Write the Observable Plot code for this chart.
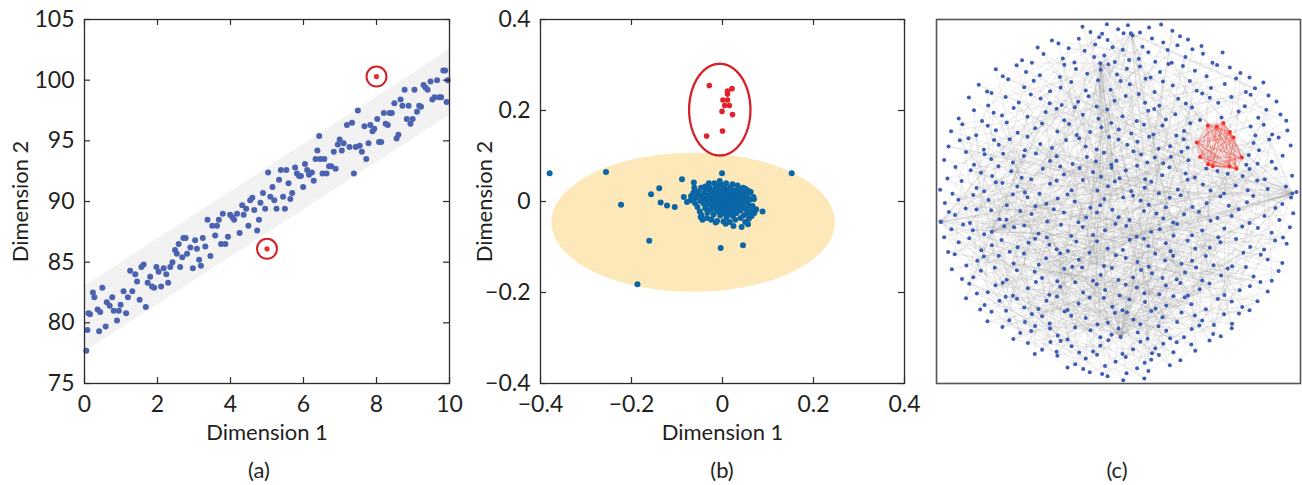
<!DOCTYPE html>
<html>
<head>
<meta charset="utf-8">
<script src="https://cdn.jsdelivr.net/npm/d3@7"></script>
<script src="https://cdn.jsdelivr.net/npm/@observablehq/plot@0.6"></script>
<style>
  body { margin: 0; background: #fff; font-family: Lato, sans-serif; color: #231f20; }
  #fig { position: relative; width: 1302px; height: 485px; background: #fff; overflow: hidden; }
  .panel { position: absolute; top: 0; }
  .cap { position: absolute; top: 457px; font-size: 22px; line-height: 26px; transform: translateX(-50%); white-space: nowrap; }
</style>
</head>
<body>
<div id="fig">
  <div class="panel" id="pa" style="left:0px"></div>
  <div class="panel" id="pb" style="left:460px"></div>
  <div class="panel" id="pc" style="left:920px"></div>
  <div class="cap" style="left:259px">(a)</div>
  <div class="cap" style="left:722px">(b)</div>
  <div class="cap" style="left:1117px">(c)</div>
</div>
<script>
// ---------- Panel (a): linear trend with two outliers ----------
const aXTicks = [0, 2, 4, 6, 8, 10];
const aYTicks = [75, 80, 85, 90, 95, 100, 105];
const aX = [0.05,0.08,0.11,0.15,0.23,0.27,0.36,0.40,0.43,0.49,0.58,0.61,0.69,0.76,0.80,0.89,0.94,0.99,1.07,1.14,1.19,1.25,1.31,1.39,1.44,1.51,1.56,1.62,1.68,1.73,1.80,1.85,1.91,1.97,2.03,2.10,2.17,2.24,2.29,2.35,2.41,2.48,2.53,2.58,2.62,2.68,2.71,2.77,2.81,2.90,2.97,3.03,3.08,3.14,3.19,3.24,3.31,3.37,3.45,3.50,3.58,3.63,3.68,3.74,3.79,3.86,3.93,3.99,4.05,4.10,4.18,4.25,4.32,4.36,4.43,4.49,4.54,4.60,4.65,4.73,4.78,4.82,4.89,4.95,5.03,5.09,5.15,5.20,5.26,5.33,5.38,5.44,5.49,5.53,5.59,5.64,5.69,5.77,5.82,5.88,5.93,5.99,6.04,6.10,6.15,6.23,6.28,6.33,6.38,6.43,6.46,6.52,6.57,6.63,6.70,6.76,6.83,6.88,6.94,6.99,7.05,7.10,7.19,7.26,7.33,7.38,7.43,7.49,7.54,7.60,7.67,7.72,7.78,7.83,7.89,7.94,8.02,8.07,8.13,8.20,8.25,8.31,8.36,8.42,8.49,8.55,8.60,8.66,8.71,8.77,8.83,8.88,8.93,8.99,9.04,9.11,9.17,9.22,9.29,9.34,9.40,9.48,9.53,9.59,9.66,9.72,9.77,9.83,9.88,9.92,9.95];
const aY = [77.7,79.4,80.8,80.7,82.5,82.1,81.1,79.3,80.9,82.9,79.7,81.7,81.4,82.1,81.0,80.2,81.0,81.5,82.6,80.8,82.1,84.3,82.6,84.0,83.4,81.9,84.6,84.8,81.3,83.3,83.8,83.0,82.9,84.6,84.2,83.0,84.5,84.0,83.3,84.6,85.0,86.0,85.7,86.5,84.6,85.4,87.0,87.0,85.7,86.2,84.5,86.8,86.1,85.2,84.7,87.0,86.3,88.5,85.5,88.0,87.2,88.0,88.5,86.5,89.0,86.5,87.1,88.9,88.7,88.5,89.0,87.4,89.7,88.9,89.4,88.0,90.1,90.3,89.3,87.6,88.5,89.9,90.7,89.4,92.4,90.4,91.2,90.1,89.4,91.8,92.6,90.4,89.4,92.6,91.5,90.2,90.7,92.8,92.3,92.1,92.1,91.2,93.1,92.6,92.2,92.4,91.7,93.5,94.2,95.4,93.5,92.3,93.5,92.3,92.9,92.9,94.1,92.7,94.7,95.1,94.2,94.8,96.3,94.5,96.5,92.3,94.5,97.5,94.6,94.1,96.2,93.5,94.8,96.3,95.8,96.0,96.8,94.9,94.9,97.3,96.4,96.3,97.3,97.3,98.1,95.2,95.5,98.4,97.9,99.2,96.8,97.9,96.4,96.8,99.2,97.4,97.9,97.8,99.6,99.4,99.2,99.9,98.4,98.6,100.0,98.6,98.6,100.8,100.8,98.2,100.0];
const aOutX = [8.0, 5.0];
const aOutY = [100.3, 86.1];
// shaded tolerance band: lower and upper edge at both ends
const bandX = [0, 10];
const bandLow = [77.6, 97.1];
const bandHigh = [83.0, 102.5];

// ---------- Panel (b): embedding with a detached group ----------
const bTicks = [-0.4, -0.2, 0, 0.2, 0.4];
const bBlue = [
  [-0.380,0.062],[-0.256,0.065],[-0.223,-0.007],[-0.157,0.016],[-0.139,0.029],[-0.136,-0.002],[-0.122,-0.009],[-0.105,-0.012],
  [-0.089,0.049],[-0.161,-0.086],[-0.187,-0.182],[-0.004,-0.102],[0.045,-0.096],[-0.001,0.062],[0.152,0.062],[0.088,-0.022],
  [0.074,-0.017],[0.056,-0.050],[0.042,-0.056],[-0.063,0.042],[-0.085,0.010],[-0.078,-0.001],[-0.069,0.012],[0.050,0.028],
  [0.062,0.021],[0.069,0.005],[0.024,-0.054],[0.007,-0.049],[-0.015,-0.046],[-0.048,-0.034],[-0.070,0.003],[-0.062,0.030],
  [-0.045,0.012],[-0.042,-0.004],[-0.040,0.020],[-0.038,-0.015],[-0.036,0.006],[-0.035,0.026],[-0.033,-0.024],[-0.031,0.014],
  [-0.030,-0.006],[-0.028,0.030],[-0.027,0.002],[-0.026,-0.018],[-0.024,0.022],[-0.023,-0.010],[-0.021,0.009],[-0.020,-0.029],
  [-0.019,0.017],[-0.018,-0.002],[-0.016,0.028],[-0.015,-0.014],[-0.014,0.005],[-0.013,-0.022],[-0.012,0.019],[-0.011,-0.007],
  [-0.010,0.034],[-0.009,0.011],[-0.008,-0.017],[-0.007,0.000],[-0.006,0.024],[-0.005,-0.031],[-0.004,0.015],[-0.003,-0.009],
  [-0.002,0.006],[-0.001,0.036],[0.000,-0.020],[0.001,0.020],[0.002,-0.003],[0.003,0.010],[0.004,-0.026],[0.005,0.029],
  [0.006,-0.012],[0.007,0.003],[0.008,0.017],[0.009,-0.035],[0.010,-0.005],[0.011,0.025],[0.012,-0.018],[0.013,0.008],
  [0.014,-0.028],[0.015,0.014],[0.016,-0.001],[0.017,0.031],[0.018,-0.011],[0.019,0.021],[0.020,-0.023],[0.021,0.004],
  [0.022,0.013],[0.023,-0.032],[0.024,-0.007],[0.025,0.024],[0.026,-0.016],[0.027,0.009],[0.028,-0.002],[0.030,0.018],
  [0.031,-0.025],[0.032,0.005],[0.034,-0.012],[0.035,0.027],[0.036,-0.004],[0.038,0.012],[0.039,-0.020],[0.041,0.002],
  [0.042,0.020],[0.044,-0.010],[0.046,0.008],[0.047,-0.030],[0.049,0.016],[0.050,-0.016],[0.052,0.000],[0.054,-0.026],
  [0.055,0.011],[0.057,-0.008],[0.058,-0.038],[0.060,0.004],[0.062,-0.020],
  [-0.058,0.008],[-0.055,-0.012],[-0.053,0.022],[-0.050,-0.022],[-0.048,0.001],[-0.047,0.030],[-0.046,-0.030],[-0.044,-0.040],
  [-0.052,0.015],[-0.060,-0.004],[-0.064,0.019],[-0.066,0.002],[-0.038,0.033],[-0.034,-0.036],[-0.030,0.040],[-0.025,-0.040],
  [-0.018,0.040],[-0.012,-0.043],[-0.006,0.045],[0.002,-0.044],[0.008,0.040],[0.016,-0.045],[0.022,0.038],[0.028,-0.040],
  [0.033,0.035],[0.040,-0.036],[0.045,0.030],[0.050,-0.045],[0.056,0.024],[0.064,-0.032],[0.068,0.010],[0.066,-0.010],
  [0.070,-0.025],[-0.020,0.008],[-0.010,-0.012],[0.000,0.004],[0.010,0.012],[0.020,-0.010],[0.030,0.008],[-0.025,-0.005],
  [-0.005,0.018],[0.015,-0.020],[0.035,0.015],[0.005,-0.015],[-0.015,0.025],[0.025,0.020],[0.040,-0.015],[-0.030,0.000],
  [-0.003,-0.025],[0.018,0.028],[0.045,-0.002],[-0.040,0.005],[0.008,0.008],[-0.008,0.005],[0.028,-0.015],[0.012,0.000],
  [-0.018,-0.008]
];
const bRed = [
  [-0.029,0.255],[0.021,0.248],[0.011,0.243],[0.011,0.236],[0.001,0.223],[0.011,0.223],
  [0.005,0.211],[0.015,0.211],[-0.001,0.198],[0.022,0.191],[0.000,0.155],[-0.035,0.144]
];
// ellipses: [centre x, centre y, radius x, radius y]
const bGroupEllipse = [-0.0645, -0.0457, 0.3114, 0.1527];
const bOutlierEllipse = [-0.006, 0.2019, 0.0674, 0.1008];

// ---------- Panel (c): network layout (0-100 box, y downward) ----------
// the first seven nodes are the high-degree hubs
const netNodes = [
  [15.2,58.3],[97.8,47.8],[50.6,87.2],[45.0,12.0],[53.4,3.8],[64.4,37.7],[1.2,55.6],
  [40.1,2.0],[42.3,3.4],[46.8,1.3],[49.9,2.7],[52.6,1.6],[55.9,3.6],[58.4,2.2],[61.7,1.4],[64.8,3.1],[45.5,3.9],[51.4,3.8],
  [44.7,4.9],[47.0,5.6],[53.9,4.4],[66.9,4.6],[62.3,6.3],[56.6,7.5],[31.7,5.8],[33.5,6.6],[36.3,7.9],[43.6,6.9],[66.2,7.1],[69.1,5.5],[27.8,7.7],[48.4,7.6],[59.2,5.2],[72.8,7.3],[39.1,5.3],
  [40.7,8.6],[46.1,9.9],[51.2,8.3],[55.6,10.8],[58.2,9.0],[60.1,11.6],[63.5,8.4],[68.4,10.3],[73.2,9.4],[75.8,11.9],[34.7,10.7],[23.5,11.2],[37.9,11.8],[43.3,10.3],[52.9,11.1],[64.6,11.9],[78.6,9.1],[29.4,9.5],[49.0,11.7],[70.3,8.2],[26.2,11.9],
  [16.3,13.7],[22.0,12.6],[35.1,12.4],[41.4,14.9],[47.2,12.3],[49.6,15.1],[52.3,13.5],[55.9,12.9],[61.4,14.4],[67.7,12.8],[74.2,15.6],[80.6,13.2],[83.5,14.7],[28.4,15.3],[18.2,15.6],[33.9,15.8],[45.1,13.8],[58.8,15.9],[63.7,12.2],[71.0,14.1],[77.1,12.5],[86.0,15.9],[24.6,14.4],[38.3,13.6],
  [11.6,17.9],[19.7,16.4],[24.1,18.6],[31.2,19.7],[37.0,17.2],[44.4,16.7],[47.8,19.3],[53.1,17.8],[57.4,16.3],[59.9,19.9],[64.9,18.1],[69.6,16.9],[71.5,19.6],[79.2,17.7],[82.3,16.2],[87.5,18.9],[13.9,19.8],[26.7,16.8],[34.1,18.7],[41.0,19.5],[50.6,16.9],[62.2,17.0],[75.4,18.8],[89.8,17.3],[85.0,19.9],
  [8.9,21.4],[15.1,20.2],[22.6,22.8],[25.9,20.6],[34.4,23.5],[41.8,21.1],[48.9,22.3],[55.6,20.5],[61.2,23.7],[66.4,21.8],[73.0,20.3],[77.4,22.9],[81.0,21.3],[84.7,23.8],[91.2,20.9],[14.2,23.6],[28.6,21.7],[38.9,22.6],[44.0,23.9],[52.0,21.0],[57.3,22.9],[68.5,23.1],[75.1,21.5],[86.3,20.7],[93.4,22.5],[19.0,21.3],[31.1,23.0],
  [10.3,24.9],[18.0,26.4],[21.2,24.3],[30.0,25.4],[35.1,27.7],[46.9,24.7],[51.1,26.6],[58.2,25.1],[63.0,27.5],[70.2,24.2],[78.3,26.9],[83.0,25.3],[94.5,26.1],[6.1,27.2],[12.5,27.9],[25.0,26.7],[33.0,24.5],[40.2,26.2],[44.5,27.3],[55.0,27.9],[59.8,24.6],[65.6,26.0],[72.4,27.6],[88.4,27.0],[90.6,24.8],[96.1,27.8],[15.7,25.6],[38.0,24.1],
  [7.1,28.8],[16.3,30.4],[19.3,28.3],[27.1,29.9],[36.4,28.7],[42.2,30.9],[48.0,28.4],[53.5,31.3],[62.1,29.1],[68.0,30.6],[86.3,29.4],[92.2,31.6],[4.0,30.7],[10.9,31.8],[14.1,29.2],[22.3,31.1],[29.0,28.6],[38.5,31.7],[45.3,29.6],[50.1,30.2],[57.0,28.9],[65.9,31.9],[69.7,28.5],[89.9,28.9],[96.4,30.5],[33.2,30.8],[59.6,31.6],[87.6,31.9],
  [8.8,32.6],[17.1,34.4],[25.0,32.2],[31.7,35.3],[35.6,33.1],[41.0,34.9],[47.4,32.3],[55.2,33.6],[61.0,35.5],[67.9,32.9],[87.1,33.9],[94.0,32.4],[3.3,34.9],[6.4,33.2],[13.0,35.8],[20.1,32.9],[28.5,34.2],[39.2,32.6],[44.0,35.7],[52.4,34.4],[58.4,32.2],[64.2,34.8],[88.6,35.9],[97.3,34.6],[15.8,33.1],[24.3,35.9],[50.0,33.0],[69.0,35.2],[91.4,33.0],
  [8.1,36.4],[15.0,38.3],[18.3,36.9],[33.0,37.6],[37.4,39.7],[46.0,36.6],[49.4,38.8],[56.2,37.1],[62.3,39.5],[67.3,36.3],[85.8,37.2],[92.1,39.1],[2.1,38.6],[10.3,39.9],[21.0,39.3],[27.3,36.8],[31.2,38.9],[41.3,37.8],[48.0,39.9],[54.1,36.2],[60.0,37.9],[69.2,38.7],[88.2,39.6],[95.1,37.4],[24.0,37.5],[43.8,39.0],[57.9,39.3],[13.2,37.0],[85.1,39.9],
  [5.2,40.5],[12.2,42.1],[17.0,40.3],[23.4,43.5],[29.2,41.0],[35.0,42.6],[39.3,40.8],[45.2,43.2],[52.0,41.5],[57.3,43.9],[64.0,40.6],[68.4,42.3],[86.0,41.1],[97.7,42.9],[3.0,43.7],[9.4,41.4],[15.3,43.0],[20.5,41.7],[26.0,43.9],[34.0,40.4],[43.0,41.9],[50.3,43.6],[55.1,40.2],[62.0,42.8],[71.0,43.4],[77.2,41.6],[84.1,43.0],[93.2,40.9],[80.0,42.4],[90.2,43.9],[48.1,40.7],[74.1,40.9],
  [6.9,44.4],[11.0,46.3],[18.1,44.9],[24.3,47.5],[31.2,45.1],[37.1,46.9],[40.2,44.1],[47.1,45.8],[53.5,47.2],[59.0,44.6],[66.3,46.7],[73.2,45.3],[79.0,47.8],[88.1,44.2],[96.0,45.9],[1.0,46.8],[4.4,47.9],[13.1,47.2],[16.3,44.7],[22.2,45.9],[28.3,47.9],[33.0,44.3],[44.2,47.0],[49.0,44.5],[57.2,46.2],[61.1,47.7],[69.0,44.0],[75.3,47.0],[82.2,45.6],[91.0,46.6],[98.9,47.4],[85.5,46.9],
  [6.0,49.5],[10.1,48.2],[19.3,51.0],[25.0,48.8],[30.2,50.6],[36.0,48.1],[42.3,51.7],[46.1,49.3],[54.0,48.4],[58.3,50.9],[64.1,49.0],[70.3,51.5],[78.0,48.6],[85.3,50.2],[93.1,51.8],[97.4,48.9],[2.3,50.4],[8.0,51.9],[14.3,49.6],[21.0,48.1],[27.2,51.3],[33.3,49.2],[38.0,50.0],[45.0,51.0],[51.3,48.9],[56.1,49.7],[63.0,51.6],[67.1,48.3],[74.2,50.5],[80.3,51.2],[87.0,48.5],[95.0,50.7],
  [5.1,53.7],[11.0,52.2],[17.3,54.9],[23.0,52.6],[30.4,55.5],[35.0,53.0],[41.1,54.4],[48.3,52.3],[53.0,55.1],[60.4,53.3],[65.0,55.8],[72.1,52.8],[77.2,54.5],[83.0,52.1],[90.1,54.0],[98.0,53.2],[1.1,55.5],[3.4,52.9],[9.2,55.9],[15.0,52.4],[19.2,55.0],[26.1,53.4],[32.2,52.1],[39.0,55.7],[44.1,53.0],[50.0,54.3],[57.0,52.6],[62.3,54.7],[68.0,53.5],[75.3,55.3],[81.1,54.0],[86.0,55.9],[94.2,55.1],
  [4.1,57.6],[7.3,56.3],[13.1,59.0],[21.3,57.1],[28.0,58.8],[34.2,56.4],[37.0,59.5],[46.3,57.9],[52.1,56.7],[59.0,58.3],[66.1,56.2],[70.2,59.3],[79.1,57.4],[84.0,56.9],[92.1,58.6],[97.1,57.1],[2.1,59.8],[10.0,57.9],[24.1,56.6],[30.3,59.9],[40.2,57.0],[43.0,59.2],[49.2,56.2],[55.0,59.7],[61.3,57.6],[73.0,58.0],[77.4,59.8],[88.3,57.3],[95.2,59.9],[18.6,56.8],[65.1,59.4],
  [6.1,61.2],[12.3,63.4],[17.9,60.6],[22.3,62.6],[27.1,60.2],[33.0,63.1],[38.4,61.0],[47.0,62.9],[53.1,60.5],[58.2,62.2],[64.3,63.7],[69.0,60.8],[75.1,62.7],[82.3,60.3],[90.0,63.2],[96.2,61.6],[3.2,63.9],[9.0,60.1],[15.2,62.0],[20.1,63.8],[25.3,61.3],[31.0,61.9],[36.1,63.6],[44.1,60.9],[51.2,63.3],[57.0,60.2],[63.0,61.5],[71.1,63.0],[78.0,61.2],[86.2,62.5],[93.0,60.7],
  [5.0,64.5],[11.2,66.3],[17.1,64.9],[28.1,67.4],[34.0,64.2],[39.1,66.0],[46.0,67.7],[49.3,64.8],[55.2,66.6],[60.1,64.3],[67.3,67.1],[74.0,65.0],[81.2,67.8],[89.1,64.6],[95.0,66.9],[8.2,67.6],[13.0,65.1],[21.2,67.0],[24.0,64.3],[30.1,65.6],[37.3,67.9],[42.0,64.1],[52.0,65.5],[58.3,67.9],[65.0,64.9],[70.2,66.3],[76.1,67.5],[84.3,64.1],[91.0,65.9],[62.8,66.2],
  [4.2,68.6],[10.1,70.8],[16.0,68.2],[19.3,71.5],[27.0,69.3],[33.2,71.9],[40.0,68.1],[45.1,70.2],[50.0,71.6],[56.2,68.8],[62.1,71.0],[68.3,69.5],[73.0,71.7],[80.0,68.4],[87.1,70.6],[94.0,69.1],[7.0,71.3],[12.2,69.0],[22.1,68.9],[29.0,71.0],[35.1,68.5],[43.0,71.8],[48.2,68.3],[54.0,70.9],[59.2,69.7],[66.0,71.4],[71.3,68.1],[78.2,70.3],[85.0,68.0],[92.1,71.8],
  [9.0,72.6],[14.1,74.9],[18.2,72.3],[25.1,73.8],[31.0,75.6],[38.1,72.2],[46.3,74.3],[52.0,72.9],[57.1,75.2],[63.0,73.1],[69.1,75.8],[75.0,72.5],[83.3,74.4],[89.0,72.1],[11.1,75.3],[16.2,73.0],[21.0,75.9],[27.3,72.1],[34.0,73.4],[40.3,75.0],[44.0,72.7],[50.3,75.8],[55.0,73.6],[61.2,75.5],[67.0,72.4],[72.3,74.1],[79.1,75.7],[86.1,73.3],[91.0,74.7],
  [8.1,76.6],[13.2,78.4],[19.0,76.2],[24.1,79.1],[30.2,77.3],[36.0,79.8],[42.1,76.4],[48.3,78.9],[53.0,76.9],[60.2,79.4],[65.1,76.0],[70.0,78.2],[77.3,76.8],[84.0,79.0],[88.2,77.4],[12.0,79.7],[17.3,77.3],[22.1,76.7],[28.0,79.5],[33.1,76.1],[39.0,78.0],[46.0,76.5],[51.1,79.9],[57.3,77.6],[63.1,78.6],[68.2,76.3],[74.0,79.6],[81.1,77.5],[86.0,79.9],
  [15.1,80.3],[20.0,82.6],[26.2,80.9],[31.1,83.5],[37.0,81.4],[44.2,83.8],[49.0,80.6],[54.1,82.4],[59.0,80.1],[66.1,83.1],[71.0,81.3],[76.2,83.9],[83.1,80.8],[14.0,82.9],[19.1,80.0],[24.3,83.1],[29.0,81.5],[35.2,80.2],[41.0,82.0],[47.1,83.3],[52.3,80.4],[56.0,83.7],[62.1,81.8],[67.3,80.5],[73.0,82.7],[79.0,81.0],[81.2,83.6],
  [18.1,84.5],[23.0,86.1],[27.1,84.2],[33.3,86.8],[38.1,84.6],[45.0,87.3],[50.0,84.9],[55.3,86.0],[61.0,84.3],[64.2,87.6],[70.1,85.0],[76.0,86.4],[81.1,84.8],[21.1,87.8],[26.0,85.6],[31.2,84.9],[36.0,87.9],[42.3,85.4],[48.1,86.6],[58.0,87.7],[63.1,85.5],[68.0,87.3],[72.2,84.1],[78.1,87.0],
  [25.1,88.9],[29.0,90.7],[34.1,88.3],[39.2,91.5],[45.0,89.6],[51.1,91.9],[56.0,88.5],[60.1,90.3],[66.0,88.7],[71.1,91.0],[75.0,88.2],[27.0,91.9],[31.3,88.6],[37.1,89.8],[43.0,91.2],[47.2,88.1],[54.0,90.6],[59.2,91.7],[62.3,89.1],[65.1,91.4],[70.0,89.3],[33.0,91.3],
  [33.2,92.4],[38.1,94.7],[41.0,93.1],[46.3,95.2],[52.0,92.7],[57.2,94.3],[61.1,92.2],[67.0,93.6],[36.0,95.6],[44.1,92.1],[49.2,94.0],[55.1,95.8],[59.0,93.5],[64.1,95.0],[40.3,96.0],
  [42.1,96.9],[47.0,98.0],[52.2,97.2],[57.1,98.6],[51.3,99.1],[58.2,96.6],[45.5,97.4]
];
// tightly knit community
const netRed = [
  [74.5,29.1],[77.0,29.4],[78.8,28.4],[80.6,30.9],[81.6,32.4],[71.5,33.8],
  [72.4,37.8],[83.9,37.9],[74.6,39.8],[75.9,40.3],[80.5,40.4],[82.4,41.0]
];
// hub node index -> neighbour indices
const netHubs = [
  [0, [12,27,45,61,78,93,104,118,131,147,160,176,188,199,214,226,241,257,268,283,296,309,318,331,347,366,379,392,408,421,437,452,468,481,497,512,526,541,553,570,584,596]],
  [1, [3,19,33,50,66,84,97,110,126,138,155,169,183,196,207,222,236,250,263,277,300,315,327,340,352,371,384,399,413,427,440,456,471,486,501,519,533,548,561,577,590,604]],
  [2, [15,29,42,58,71,88,101,115,129,143,158,172,185,201,217,231,246,260,274,288,303,320,335,349,363,377,390,404,418,433,447,462,476,490,506,521,536,549]],
  [3, [7,22,37,55,73,90,108,124,140,153,167,180,194,210,224,239,254,270,286,301,317,333,345,360,374,388,402,416,430,444,459,474,488,503,517,531,545,558,573,588,601]],
  [4, [20,48,63,95,121,149,177,205,233,262,291,319,348,376,405,434,463,492,520,551,580,607]],
  [5, [31,59,86,113,141,170,198,227,255,284,312,341,369,397,426,454,483,511,539,567,595]],
  [6, [9,36,64,92,120,148,175,203,232,259,287,314,343,372,400,429,457,485,514,542,571,599]]
];
// remaining edges as [source, target]
const netEdges = [
  [1,233],[2,410],[4,95],[6,512],[8,301],[10,177],[13,455],[14,390],[16,260],[17,598],[18,120],[21,342],[23,488],[24,67],[25,205],[26,543],
  [28,312],[30,150],[32,421],[34,276],[35,590],[38,130],[39,468],[40,222],[41,355],[43,505],[46,188],[47,377],[49,601],[51,92],[52,318],[53,440],
  [54,256],[56,530],[57,163],[60,398],[62,275],[65,566],[67,211],[68,480],[69,133],[70,349],[72,522],[74,240],[75,405],[76,160],[77,575],[79,298],
  [80,451],[81,186],[82,369],[83,540],[85,235],[87,415],[89,111],[91,606],[94,322],[96,470],[98,254],[99,385],[100,560],[102,197],[103,338],[105,493],
  [106,281],[107,600],[109,246],[111,423],[112,557],[114,306],[116,479],[117,212],[119,380],[122,526],[123,270],[125,447],[127,590],[128,343],[130,215],[132,498],
  [134,389],[135,572],[136,251],[137,461],[139,310],[142,545],[144,226],[145,407],[146,584],[150,289],[151,439],[152,357],[154,520],[156,245],[157,396],[159,602],
  [161,330],[162,478],[163,266],[164,555],[165,372],[166,425],[168,219],[171,509],[173,295],[174,441],[178,586],[179,323],[181,462],[182,251],[184,534],[186,399],
  [187,608],[189,285],[190,449],[191,367],[192,574],[193,306],[195,505],[197,420],[199,547],[200,337],[202,460],[204,591],[206,316],[208,472],[209,383],[212,553],
  [213,292],[215,431],[216,578],[218,347],[219,502],[220,260],[221,415],[223,563],[225,381],[228,492],[229,320],[230,599],[234,444],[235,364],[237,527],[238,302],
  [240,473],[242,387],[243,554],[244,339],[245,486],[247,605],[248,409],[249,298],[251,537],[252,373],[253,464],[256,582],[258,351],[261,495],[264,428],[265,569],
  [267,310],[269,523],[271,388],[272,597],[273,453],[275,356],[276,516],[278,437],[279,583],[280,325],[281,469],[282,398],[285,546],[290,413],[292,593],[293,480],
  [294,361],[297,525],[298,436],[299,603],[302,458],[304,379],[305,565],[306,414],[307,496],[308,350],[310,587],[311,445],[313,528],[316,392],[321,470],[324,559],
  [326,403],[328,489],[329,604],[332,446],[334,375],[336,515],[338,594],[339,422],[342,477],[344,562],[346,411],[350,538],[351,466],[353,592],[354,435],[358,510],
  [359,448],[361,579],[362,419],[364,500],[365,589],[367,442],[368,532],[370,475],[373,566],[375,417],[378,540],[380,494],[381,606],[382,451],[383,571],[386,465],
  [387,523],[389,443],[391,585],[393,508],[394,561],[395,450],[396,607],[398,481],[401,544],[403,469],[406,587],[407,499],[409,556],[411,482],[412,597],[414,535],
  [415,473],[417,601],[419,518],[420,576],[422,504],[423,552],[424,491],[425,593],[428,534],[431,567],[432,507],[435,588],[436,521],[438,569],[439,494],[441,603],
  [442,529],[443,574],[445,512],[446,585],[448,539],[449,595],[450,524],[451,581],[453,544],[455,596],[458,530],[460,577],[461,513],[464,563],[465,600],[466,537],
  [467,584],[469,509],[471,555],[472,591],[475,543],[477,572],[478,605],[480,527],[482,566],[484,549],[487,598],[489,531],[491,578],[493,557],[494,608],[495,550],
  [497,586],[499,563],[500,602],[502,576],[504,553],[507,590],[508,569],[510,599],[513,561],[515,586],[518,580],[523,594],[525,567],[527,604],[529,575],[532,582],
  [535,589],[538,596],[544,599],[547,591],[550,606],[554,583],[559,595],[563,600],[565,587],[568,603],[570,592],
  [7,318],[9,402],[15,611],[19,245],[22,530],[27,144],[31,377],[36,620],[42,268],[48,455],[55,139],[59,582],[63,297],[66,418],[71,603],[78,226],
  [84,349],[88,512],[93,175],[97,466],[101,633],[108,289],[113,390],[118,547],[121,206],[126,615],[129,342],[133,487],[138,259],[141,571],[147,404],[149,631],
  [153,312],[158,497],[167,238],[169,588],[172,421],[176,640],[180,352],[183,529],[185,274],[188,618],[194,447],[196,310],[198,562],[201,388],[205,627],[207,334],
  [210,479],[214,595],[217,300],[222,541],[224,409],[227,636],[231,360],[233,501],[236,284],[239,612],[241,438],[246,569],[250,329],[254,625],[257,486],[260,394],
  [262,551],[263,619],[268,371],[270,505],[274,642],[277,412],[283,533],[286,358],[288,607],[291,464],[296,547],[300,630],[303,381],[309,526],[314,609],[315,440],
  [317,561],[319,648],[320,395],[327,484],[331,613],[333,452],[335,578],[340,623],[341,402],[343,517],[345,637],[347,433],[348,560],[349,614],[352,498],[360,585],
  [363,644],[366,430],[369,556],[371,632],[374,463],[376,610],[377,520],[379,641],[384,457],[388,571],[390,626],[392,503],[397,616],[399,468],[400,604],[402,548],
  [404,635],[405,476],[408,592],[413,645],[416,507],[418,621],[421,559],[426,639],[427,490],[429,610],[430,572],[433,617],[434,536],[437,646],[440,531],[444,628],
  [447,582],[452,647],[454,519],[456,624],[457,596],[459,638],[462,545],[463,622],[468,576],[471,634],[474,553],[476,629],[481,568],[483,643],[485,558],[486,618],
  [488,592],[490,641],[492,573],[497,612],[501,585],[503,633],[506,589],[511,620],[512,549],[514,640],[517,598],[519,627],[520,564],[521,608],[526,637],[531,581],
  [533,644],[536,613],[539,597],[541,630],[542,584],[545,619],[548,639],[549,602],[551,616],[553,635],[558,646],[561,611],[571,642],[573,625],[577,629],[580,648],
  [584,617],[588,634],[590,624],[595,645],[596,628],[599,638],[601,632],[604,647],[606,622],
  [8,150],[10,96],[12,203],[14,67],[17,231],[20,119],[23,284],[25,157],[29,343],[32,190],[34,99],[37,268],[40,175],[45,247],[47,130],[50,312],
  [52,168],[57,226],[61,140],[64,355],[68,201],[70,149],[73,292],[76,180],[80,236],[83,161],[86,317],[90,214],[92,172],[95,261],[100,230],[104,186],
  [106,333],[110,251],[115,298],[117,208],[122,281],[124,366],[128,199],[131,262],[135,308],[137,221],[143,290],[146,380],[151,240],[155,327],[160,302],[164,253],
  [166,341],[170,279],[173,361],[178,269],[181,320],[184,345],[189,288],[191,373],[195,305],[200,324],[203,356],[209,287],[212,340],[216,368],[219,299],[223,351],
  [228,385],[232,306],[237,362],[242,330],[244,375],[248,319],[252,349],[256,391],[258,337],[264,376],[266,350],[271,389],[275,365],[278,398],[282,372],[285,400],
  [292,386],[294,410],[297,378],[304,413],[307,392],[311,420],[313,401],[316,428],[321,411],[325,436],[328,419],[332,443],[336,425],[339,450],[344,437],[346,458],
  [350,445],[354,467],[357,453],[359,470],[364,461],[367,482],[370,475],[375,489],[378,471],[381,493],[383,478],[387,500],[391,487],[393,508],[396,494],[398,513],
  [401,499],[406,518],[409,510],[411,524],[414,515],[417,532],[419,523],[422,537],[424,528],[428,543],[431,535],[435,550],[438,540],[441,555],[445,546],[448,563],
  [450,552],[453,567],[455,557],[458,574],[461,562],[464,579],[466,566],[469,583],[472,570],[475,587],[478,577],[480,593],[482,586],[484,600],[487,591],[489,605],
  [493,594],[495,610],[498,603],[500,614],[502,606],[504,619],[507,611],[509,623],[513,621],[515,626],[518,624],[522,631],[525,628],[527,636],[530,634],[532,641],
  [535,639],[537,645],[540,643],[543,649],[546,647],[550,633],[552,638],[555,642],[557,630],[559,646],[563,637],[566,649],[568,640],[570,644],[574,648],[576,632]
];

// ---------- shared helpers ----------
const ink = "#2b2b2b";
const baseStyle = {background: "transparent", overflow: "visible", fontFamily: "Lato, sans-serif", fontSize: "22px", color: "#231f20"};

// inward tick marks on all four sides plus the frame
function boxTicks(xt, yt, w, h, len) {
  return [
    Plot.tickX(xt, {x: d => d, insetTop: h - len, stroke: ink, strokeWidth: 1.2}),
    Plot.tickX(xt, {x: d => d, insetBottom: h - len, stroke: ink, strokeWidth: 1.2}),
    Plot.tickY(yt, {y: d => d, insetRight: w - len, stroke: ink, strokeWidth: 1.2}),
    Plot.tickY(yt, {y: d => d, insetLeft: w - len, stroke: ink, strokeWidth: 1.2}),
    Plot.frame({stroke: ink, strokeWidth: 1.3})
  ];
}

function axisLabels(fmt, xt, yt, yLabelDx) {
  return [
    Plot.axisX({ticks: xt, tickSize: 0, tickPadding: 12, fontSize: 23, tickFormat: fmt, label: null}),
    Plot.axisY({ticks: yt, tickSize: 0, tickPadding: 10, fontSize: 23, tickFormat: fmt, label: null}),
    Plot.text(["Dimension 1"], {text: d => d, frameAnchor: "bottom", lineAnchor: "middle", textAnchor: "middle", dy: 49, fontSize: 22}),
    Plot.text(["Dimension 2"], {text: d => d, frameAnchor: "left", lineAnchor: "middle", textAnchor: "middle", dx: yLabelDx, rotate: -90, fontSize: 22})
  ];
}

// outline of an axis-aligned ellipse in data units
function ellipseOutline([cx, cy, rx, ry]) {
  return d3.range(0, 361, 2).map(a => {
    const t = a * Math.PI / 180;
    return {x: cx + rx * Math.cos(t), y: cy + ry * Math.sin(t)};
  });
}

// ---------- draw (a) ----------
const aPts = aX.map((x, i) => ({x, y: aY[i]}));
const aOut = aOutX.map((x, i) => ({x, y: aOutY[i]}));
const band = bandX.map((x, i) => ({x, lo: bandLow[i], hi: bandHigh[i]}));

document.getElementById("pa").append(Plot.plot({
  width: 460, height: 448,
  marginLeft: 84, marginRight: 11, marginTop: 19, marginBottom: 65,
  style: baseStyle,
  x: {domain: [0, 10]},
  y: {domain: [75, 105]},
  marks: [
    Plot.areaY(band, {x: "x", y1: "lo", y2: "hi", fill: "#f2f2f2"}),
    Plot.dot(aPts, {x: "x", y: "y", r: 3, fill: "#4a62b0"}),
    Plot.dot(aOut, {x: "x", y: "y", r: 2.6, fill: "#ee2b25"}),
    Plot.dot(aOut, {x: "x", y: "y", r: 10, stroke: "#d41f26", strokeWidth: 2, fill: "none"}),
    ...boxTicks(aXTicks, aYTicks, 365, 364, 6),
    ...axisLabels(d => String(d), aXTicks, aYTicks, -64)
  ]
}));

// ---------- draw (b) ----------
const fmtB = d => d === 0 ? "0" : d3.format(".1f")(d);
document.getElementById("pb").append(Plot.plot({
  width: 460, height: 448,
  marginLeft: 80, marginRight: 16, marginTop: 19, marginBottom: 65,
  style: baseStyle,
  x: {domain: [-0.4, 0.4]},
  y: {domain: [-0.4, 0.4]},
  marks: [
    Plot.line(ellipseOutline(bGroupEllipse), {x: "x", y: "y", fill: "#fde8ba", stroke: "none"}),
    Plot.line(ellipseOutline(bOutlierEllipse), {x: "x", y: "y", stroke: "#d41f26", strokeWidth: 2.3}),
    Plot.dot(bBlue, {x: d => d[0], y: d => d[1], r: 3, fill: "#0b66a6"}),
    Plot.dot(bRed, {x: d => d[0], y: d => d[1], r: 2.8, fill: "#e0202a"}),
    ...boxTicks(bTicks, bTicks, 364, 364, 6),
    ...axisLabels(fmtB, bTicks, bTicks, -56)
  ]
}));

// ---------- draw (c) ----------
const netLinks = [];
for (const [h, targets] of netHubs) for (const t of targets) netLinks.push([h, t]);
for (const e of netEdges) netLinks.push(e);
const linkRows = netLinks
  .filter(([s, t]) => netNodes[s] && netNodes[t])
  .map(([s, t]) => ({x1: netNodes[s][0], y1: netNodes[s][1], x2: netNodes[t][0], y2: netNodes[t][1]}));
const redRows = [];
netRed.forEach((p, i) => netRed.forEach((q, j) => { if (j > i) redRows.push({x1: p[0], y1: p[1], x2: q[0], y2: q[1]}); }));

document.getElementById("pc").append(Plot.plot({
  width: 382, height: 385,
  marginLeft: 16, marginRight: 2, marginTop: 19, marginBottom: 2,
  style: baseStyle,
  x: {domain: [0, 100], axis: null},
  y: {domain: [0, 100], reverse: true, axis: null},
  marks: [
    Plot.link(linkRows, {x1: "x1", y1: "y1", x2: "x2", y2: "y2", stroke: "#8c8c8c", strokeOpacity: 0.28, strokeWidth: 0.55}),
    Plot.link(redRows, {x1: "x1", y1: "y1", x2: "x2", y2: "y2", stroke: "#f0443a", strokeOpacity: 0.6, strokeWidth: 0.7}),
    Plot.dot(netNodes, {x: d => d[0], y: d => d[1], r: 2, fill: "#3d5cb3"}),
    Plot.dot(netRed, {x: d => d[0], y: d => d[1], r: 2, fill: "#f2322b"}),
    Plot.frame({stroke: "#555", strokeWidth: 1.6})
  ]
}));
</script>
</body>
</html>
